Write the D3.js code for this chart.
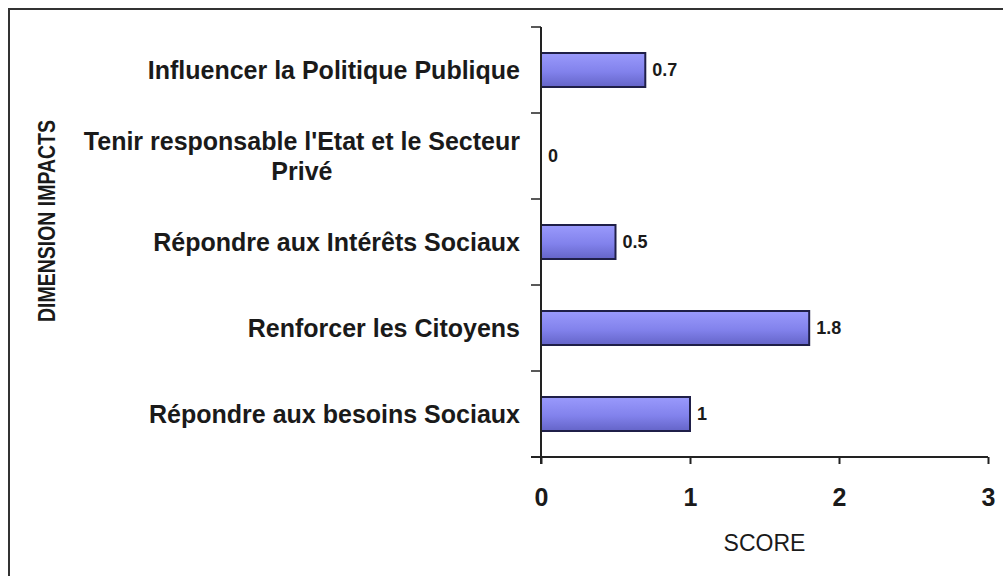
<!DOCTYPE html>
<html>
<head>
<meta charset="utf-8">
<script src="https://d3js.org/d3.v7.min.js"></script>
<style>
  body { margin: 0; background: #fff; }
  svg text { font-family: "Liberation Sans", Arial, sans-serif; fill: #1a1a1a; }
</style>
</head>
<body>
<div id="chart"></div>
<script>
// data
var categories = ["Influencer la Politique Publique",
                  "Tenir responsable l'Etat et le Secteur Privé",
                  "Répondre aux Intérêts Sociaux",
                  "Renforcer les Citoyens",
                  "Répondre aux besoins Sociaux"];
var scores = [0.7, 0, 0.5, 1.8, 1];
var xTicks = [0, 1, 2, 3];
var xTitle = "SCORE";
var yTitle = "DIMENSION IMPACTS";

var width = 1003, height = 576;
// plot area (note: "top" is reserved on window, so use plotTop)
var plotLeft = 541, plotRight = 988, plotTop = 27, plotBottom = 457;

var svg = d3.select("#chart").append("svg")
  .attr("width", width)
  .attr("height", height);

// frame around the chart (runs off the right and bottom of the picture)
svg.append("rect")
  .attr("x", 9).attr("y", 9)
  .attr("width", 1010).attr("height", 600)
  .attr("fill", "none")
  .attr("stroke", "#333")
  .attr("stroke-width", 2);

// bar gradient
var grad = svg.append("defs").append("linearGradient")
  .attr("id", "barFill")
  .attr("x1", 0).attr("y1", 0).attr("x2", 0).attr("y2", 1);
grad.append("stop").attr("offset", "0%").attr("stop-color", "#9a9afc");
grad.append("stop").attr("offset", "55%").attr("stop-color", "#8282ec");
grad.append("stop").attr("offset", "100%").attr("stop-color", "#6464c8");

var x = d3.scaleLinear().domain([0, 3]).range([plotLeft, plotRight]);
var y = d3.scaleBand().domain(categories).range([plotTop, plotBottom]).padding(0);
var barH = 34;

// bars
svg.selectAll("rect.bar")
  .data(categories)
  .enter().append("rect")
  .attr("class", "bar")
  .attr("x", x(0))
  .attr("y", function(d) { return y(d) + (y.bandwidth() - barH) / 2; })
  .attr("width", function(d, i) { return x(scores[i]) - x(0); })
  .attr("height", barH)
  .attr("fill", "url(#barFill)")
  .attr("stroke", "#1f1f48")
  .attr("stroke-width", function(d, i) { return scores[i] > 0 ? 2 : 0; });

// value labels
svg.selectAll("text.val")
  .data(categories)
  .enter().append("text")
  .attr("class", "val")
  .attr("x", function(d, i) { return x(scores[i]) + 7; })
  .attr("y", function(d) { return y(d) + y.bandwidth() / 2; })
  .attr("dy", "0.35em")
  .attr("font-size", 18)
  .attr("font-weight", "bold")
  .text(function(d, i) { return scores[i]; });

// y axis: line + ticks at band boundaries
var yAxis = svg.append("g");
yAxis.append("line")
  .attr("x1", plotLeft).attr("x2", plotLeft)
  .attr("y1", plotTop).attr("y2", plotBottom + 7)
  .attr("stroke", "#222").attr("stroke-width", 2);
var bounds = categories.map(function(d) { return y(d); }).concat([plotBottom]);
yAxis.selectAll("line.tick")
  .data(bounds)
  .enter().append("line")
  .attr("x1", plotLeft - 10).attr("x2", plotLeft)
  .attr("y1", function(d) { return d; }).attr("y2", function(d) { return d; })
  .attr("stroke", "#222").attr("stroke-width", 1.5);

// x axis
var xAxis = svg.append("g").attr("transform", "translate(0," + plotBottom + ")")
  .call(d3.axisBottom(x).tickValues(xTicks).tickSize(7).tickSizeOuter(0).tickPadding(24)
    .tickFormat(d3.format("d")));
xAxis.select(".domain").remove();
xAxis.append("line")
  .attr("x1", plotLeft - 10).attr("x2", plotRight)
  .attr("y1", 0).attr("y2", 0)
  .attr("stroke", "#222").attr("stroke-width", 2);
xAxis.selectAll(".tick line").attr("stroke", "#222").attr("stroke-width", 2);
xAxis.selectAll(".tick text")
  .attr("font-size", 25)
  .attr("font-weight", "bold")
  .attr("font-family", "'Liberation Sans', Arial, sans-serif")
  .attr("fill", "#1a1a1a");

// category labels, wrapped and centred as a block, right aligned to the axis
var labelRight = 520, maxW = 455, lineH = 30;
categories.forEach(function(cat) {
  var g = svg.append("g");
  var words = cat.split(" "), lines = [], cur = [];
  var probe = g.append("text").attr("font-size", 25).attr("font-weight", "bold");
  words.forEach(function(w) {
    probe.text(cur.concat([w]).join(" "));
    if (probe.node().getComputedTextLength() > maxW && cur.length) {
      lines.push(cur.join(" "));
      cur = [w];
    } else {
      cur.push(w);
    }
  });
  lines.push(cur.join(" "));
  var widest = 0;
  lines.forEach(function(l) {
    probe.text(l);
    widest = Math.max(widest, probe.node().getComputedTextLength());
  });
  probe.remove();
  var cx = labelRight - widest / 2;
  var cy = y(cat) + y.bandwidth() / 2;
  lines.forEach(function(l, k) {
    g.append("text")
      .attr("x", cx)
      .attr("y", cy + (k - (lines.length - 1) / 2) * lineH)
      .attr("dy", "0.36em")
      .attr("text-anchor", "middle")
      .attr("font-size", 25)
      .attr("font-weight", "bold")
      .text(l);
  });
});

// axis titles
svg.append("text")
  .attr("x", (plotLeft + plotRight) / 2)
  .attr("y", 551)
  .attr("text-anchor", "middle")
  .attr("font-size", 23)
  .text(xTitle);

svg.append("text")
  .attr("transform", "translate(55,221) rotate(-90)")
  .attr("text-anchor", "middle")
  .attr("font-size", 23)
  .attr("font-weight", "bold")
  .attr("textLength", 202)
  .attr("lengthAdjust", "spacingAndGlyphs")
  .text(yTitle);
</script>
</body>
</html>
